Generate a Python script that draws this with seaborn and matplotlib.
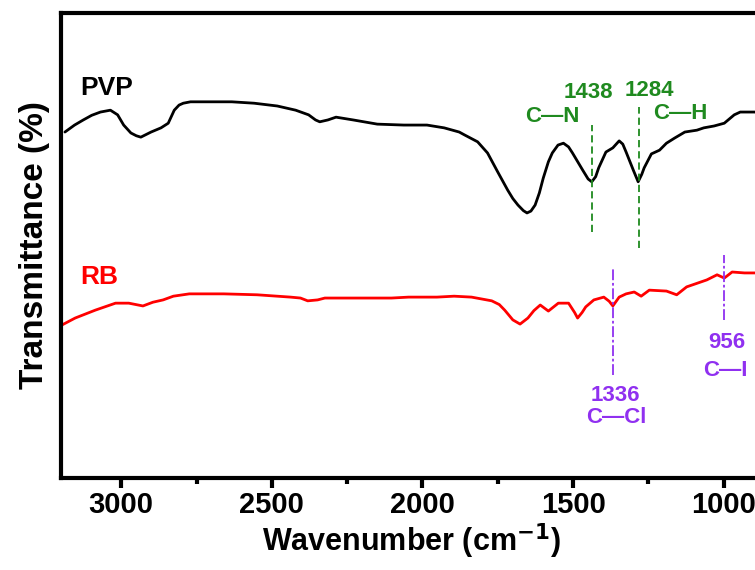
import numpy as np
import pandas as pd
import matplotlib
matplotlib.use("Agg")
import matplotlib.pyplot as plt
from matplotlib.ticker import MultipleLocator
import seaborn as sns

sns.set_style("white")
plt.rcParams['font.family'] = ['Liberation Sans', 'DejaVu Sans']
plt.rcParams['font.weight'] = 'bold'
plt.rcParams['mathtext.default'] = 'bf'
plt.rcParams['text.color'] = 'black'
plt.rcParams['axes.labelcolor'] = 'black'
plt.rcParams['xtick.color'] = 'black'

# PVP spectrum (wavenumber in cm-1, transmittance in arbitrary units)
pvp_wn = [3187, 3155, 3126, 3098, 3069, 3036, 3012, 2992, 2968, 2950, 2935, 2901,
          2868, 2844, 2824, 2808, 2794, 2770, 2744, 2633, 2559, 2482, 2421, 2378,
          2355, 2341, 2314, 2287, 2230, 2150, 2062, 1985, 1928, 1878, 1861, 1817,
          1784, 1750, 1717, 1700, 1683, 1665, 1653, 1640, 1626, 1612, 1599, 1582,
          1569, 1550, 1532, 1515, 1502, 1468, 1450, 1438, 1425, 1415, 1391, 1368,
          1347, 1335, 1324, 1300, 1284, 1272, 1264, 1240, 1213, 1190, 1163, 1129,
          1089, 1066, 1032, 998, 965, 945, 898, 871]
pvp_t = [74.4, 75.9, 77.0, 78.0, 78.7, 79.1, 78.1, 75.9, 74.2, 73.6, 73.3, 74.4,
         75.3, 76.3, 79.1, 80.2, 80.6, 80.9, 80.9, 80.9, 80.6, 80.0, 79.1, 78.1,
         77.0, 76.6, 77.0, 77.6, 77.0, 76.1, 75.9, 75.9, 75.3, 74.4, 73.8, 72.3,
         69.9, 65.8, 61.9, 60.1, 58.7, 57.5, 57.0, 57.4, 58.7, 61.3, 64.5, 68.0,
         69.9, 71.6, 72.0, 71.2, 69.9, 66.2, 64.3, 63.7, 64.8, 66.7, 70.1, 71.0,
         72.5, 71.8, 70.1, 66.2, 63.7, 65.3, 66.7, 69.7, 70.5, 72.0, 73.1, 74.4,
         74.8, 75.3, 75.7, 76.3, 78.1, 78.7, 78.7, 78.5]

# RB spectrum
rb_wn = [3197, 3153, 3086, 3019, 2975, 2928, 2895, 2861, 2827, 2774, 2660, 2549,
         2438, 2405, 2381, 2348, 2324, 2213, 2103, 2046, 1952, 1895, 1837, 1770,
         1745, 1727, 1700, 1676, 1650, 1630, 1609, 1582, 1549, 1515, 1495, 1485,
         1470, 1458, 1431, 1398, 1380, 1368, 1347, 1324, 1297, 1274, 1247, 1190,
         1156, 1123, 1056, 1022, 998, 972, 931, 871]
rb_t = [32.9, 34.4, 36.1, 37.6, 37.6, 37.0, 37.8, 38.3, 39.1, 39.6, 39.6, 39.4,
        38.9, 38.7, 38.1, 38.3, 38.7, 38.7, 38.7, 38.9, 38.9, 39.1, 38.9, 38.1,
        37.3, 36.1, 34.0, 33.1, 34.4, 36.0, 37.2, 35.9, 37.6, 37.6, 35.6, 34.4,
        35.6, 36.8, 38.3, 38.9, 38.0, 37.0, 38.9, 39.6, 40.0, 39.1, 40.4, 40.2,
        39.4, 41.1, 42.6, 43.7, 43.0, 44.3, 44.1, 44.1]

# peak markers: (line position, top, bottom, number label, bond label)
pvp_peaks_x = [1436, 1280]
pvp_peaks_top = [75.9, 79.8]
pvp_peaks_bottom = [52.9, 49.5]
pvp_peak_labels = ["1438", "1284"]
pvp_bond_labels = ["C\u2014N", "C\u2014H"]

rb_peaks_x = [1368, 1000]
rb_peaks_top = [45.4, 48.0]
rb_peaks_bottom = [22.2, 34.0]
rb_peak_labels = ["1336", "956"]
rb_bond_labels = ["C\u2014Cl", "C\u2014I"]

green = '#1f8a1f'
purple = '#9030f0'

fig = plt.figure(figsize=(7.55, 5.70), dpi=100)
ax = fig.add_axes([0.0808, 0.1614, 0.9192 + 0.01, 0.9772 - 0.1614])

sns.lineplot(x=pvp_wn, y=pvp_t, ax=ax, color='black', lw=2.0, sort=False)
sns.lineplot(x=rb_wn, y=rb_t, ax=ax, color='red', lw=2.0, sort=False)

ax.vlines(pvp_peaks_x, pvp_peaks_bottom, pvp_peaks_top, colors=green,
          linestyles=(0, (4, 2.2)), lw=1.3)
ax.vlines(rb_peaks_x, rb_peaks_bottom, rb_peaks_top, colors=purple,
          linestyles=(0, (6, 1.5, 1.5, 1.5)), lw=1.3)

# annotation texts
ax.text(1448, 83.0, pvp_peak_labels[0], color=green, fontsize=16, ha='center', va='center')
ax.text(1569, 77.8, pvp_bond_labels[0], color=green, fontsize=16, ha='center', va='center')
ax.text(1247, 83.4, pvp_peak_labels[1], color=green, fontsize=16, ha='center', va='center')
ax.text(1143, 78.3, pvp_bond_labels[1], color=green, fontsize=16, ha='center', va='center')

ax.text(1358, 17.8, rb_peak_labels[0], color=purple, fontsize=16, ha='center', va='center')
ax.text(1358, 13.1, rb_bond_labels[0], color=purple, fontsize=16, ha='center', va='center')
ax.text(988, 29.2, rb_peak_labels[1], color=purple, fontsize=16, ha='center', va='center')
ax.text(995, 23.2, rb_bond_labels[1], color=purple, fontsize=16, ha='center', va='center')

ax.text(3136, 83.9, "PVP", color='black', fontsize=19, ha='left', va='center')
ax.text(3136, 43.2, "RB", color='red', fontsize=19, ha='left', va='center')

ax.set_xlim(3200, 871)
ax.set_ylim(0, 100)
ax.xaxis.set_major_locator(MultipleLocator(500))
ax.xaxis.set_minor_locator(MultipleLocator(250))
ax.set_yticks([])

for side in ['left', 'top', 'bottom']:
    ax.spines[side].set_linewidth(3)
    ax.spines[side].set_color('black')
ax.spines['right'].set_visible(False)

ax.tick_params(axis='x', which='major', direction='out', length=7, width=3,
               labelsize=21, pad=2, bottom=True, colors='black')
ax.tick_params(axis='x', which='minor', direction='out', length=4.5, width=3,
               bottom=True, colors='black')

ax.set_xlabel("Wavenumber (cm$^{\\mathbf{-1}}$)", fontsize=22, fontweight='bold',
              labelpad=2, color='black')
ax.set_ylabel("Transmittance (%)", fontsize=24, fontweight='bold', labelpad=8,
              color='black')

fig.savefig("out.png", dpi=100)
